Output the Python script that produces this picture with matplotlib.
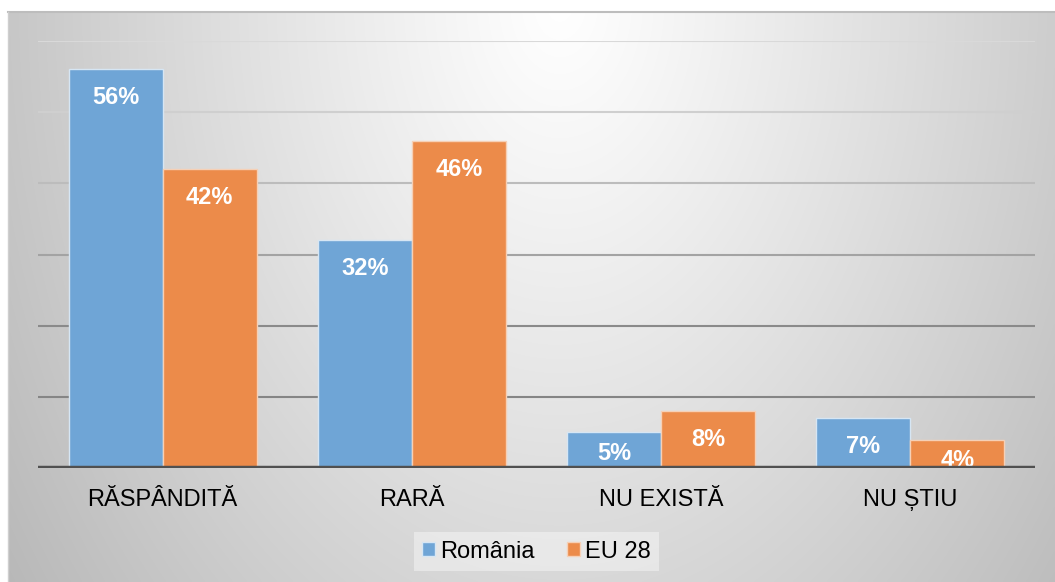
import numpy as np
import matplotlib
matplotlib.use("Agg")
import matplotlib.pyplot as plt

plt.rcParams['font.family'] = ['Liberation Sans', 'DejaVu Sans']

categories = ["RĂSPÂNDITĂ", "RARĂ", "NU EXISTĂ", "NU ȘTIU"]
romania = [56, 32, 5, 7]
eu28 = [42, 46, 8, 4]
series_names = ["România", "EU 28"]
colors = ["#6FA5D6", "#EC8B4A"]

W, H = 1055, 582
fig = plt.figure(figsize=(W / 100, H / 100), dpi=100, facecolor="white")

# gradient background of chart area
bg = fig.add_axes([8 / W, 0, 1 - 8 / W, (H - 12) / H], zorder=-2)
ny, nx = 300, 500
yy, xx = np.mgrid[0:ny, 0:nx]
px = 8 + xx / (nx - 1) * (W - 8)
py = 12 + yy / (ny - 1) * (H - 12)
d = np.sqrt(((px - 560) / 560) ** 2 + ((py - 0) / 820) ** 2)
val = 255 - 57 * np.clip(d, 0, 1.25) ** 1.1
img = np.dstack([val, val, val]) / 255.0
bg.imshow(np.clip(img, 0, 1), aspect="auto", extent=[0, 1, 0, 1], interpolation="bilinear")
bg.set_xlim(0, 1); bg.set_ylim(0, 1)
bg.axis("off")
bg.plot([0, 1], [1, 1], color="#bdbdbd", lw=1.5, transform=bg.transAxes, clip_on=False)
bg.plot([0, 0], [0, 1], color="#cfcfcf", lw=1, transform=bg.transAxes, clip_on=False)

ax = fig.add_axes([38 / W, 1 - 468 / H, (1035 - 38) / W, (468 - 41) / H])
ax.set_facecolor("none")
ax.set_xlim(-0.5, len(categories) - 0.5)
ax.set_ylim(0, 60)

grid_colors = {10: "#858585", 20: "#8a8a8a", 30: "#a3a3a3", 40: "#bcbcbc", 50: "#cfcfcf", 60: "#d9d9d9"}
for lvl, c in grid_colors.items():
    ax.axhline(lvl, color=c, lw=1.5, zorder=0)

x = np.arange(len(categories))
w = 0.377
b1 = ax.bar(x - w / 2, romania, w, color=colors[0], edgecolor="#d6e6f4", lw=1.0, zorder=2, label=series_names[0])
b2 = ax.bar(x + w / 2, eu28, w, color=colors[1], edgecolor="#f6d0b6", lw=1.0, zorder=2, label=series_names[1])

for bars, vals in ((b1, romania), (b2, eu28)):
    for rect, v in zip(bars, vals):
        off = 4.0 if v > 6 else 2.9
        ax.text(rect.get_x() + rect.get_width() / 2, v - off, f"{v}%",
                ha="center", va="center", color="white", fontsize=17, fontweight="bold", zorder=3)

ax.axhline(0, color="#505050", lw=3.2, zorder=4)

for s in ax.spines.values():
    s.set_visible(False)
ax.set_yticks([])
ax.set_xticks(x)
ax.set_xticklabels(categories, fontsize=17, color="black")
ax.tick_params(axis="x", length=0, pad=15)

leg = fig.legend(handles=[b1, b2], labels=series_names, loc="center",
                 bbox_to_anchor=(536.5 / W, 1 - 551.5 / H), ncol=2, fontsize=17,
                 frameon=True, fancybox=False, handlelength=0.55, handleheight=0.55,
                 handletextpad=0.2, columnspacing=1.4, borderpad=0.35)
leg.get_frame().set_facecolor("white")
leg.get_frame().set_alpha(0.4)
leg.get_frame().set_edgecolor("none")

fig.savefig("out.png", dpi=100, facecolor="white")
